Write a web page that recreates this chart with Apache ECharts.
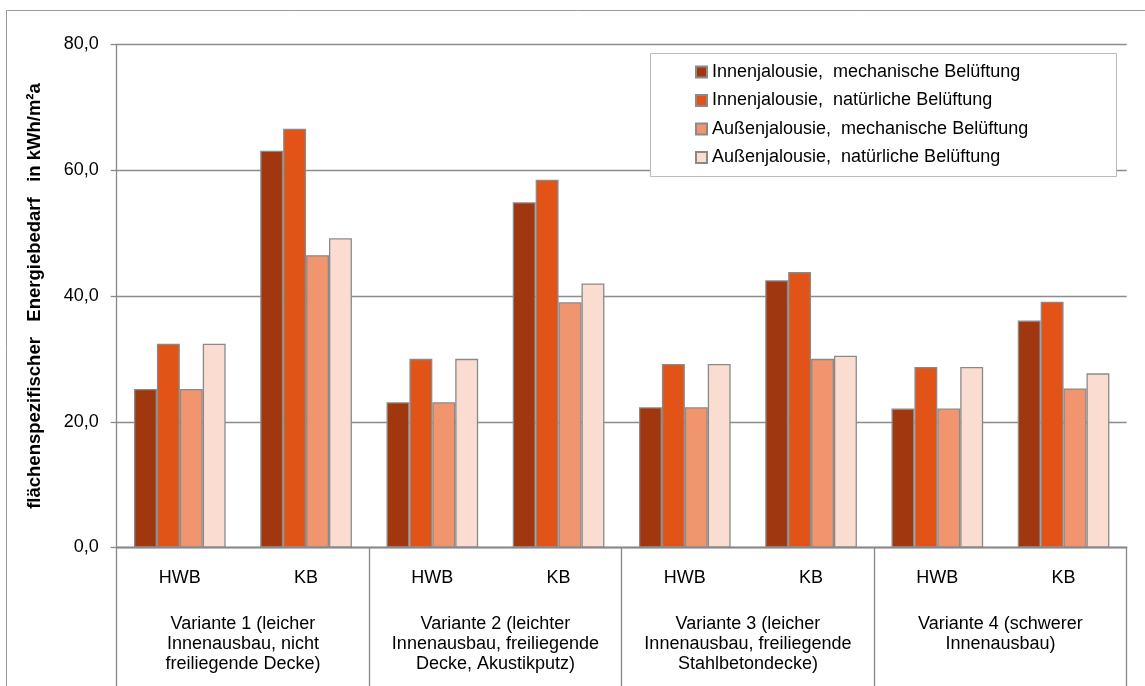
<!DOCTYPE html>
<html>
<head>
<meta charset="utf-8">
<script src="https://cdn.jsdelivr.net/npm/echarts@6/dist/echarts.min.js"></script>
<style>html,body{margin:0;padding:0;background:#fff}#c{width:1145px;height:686px}</style>
</head>
<body>
<div id="c"></div>
<script>
const categories = ['HWB', 'KB', 'HWB', 'KB', 'HWB', 'KB', 'HWB', 'KB'];
const variants = [
  'Variante 1 (leicher\nInnenausbau, nicht\nfreiliegende Decke)',
  'Variante 2 (leichter\nInnenausbau, freiliegende\nDecke, Akustikputz)',
  'Variante 3 (leicher\nInnenausbau, freiliegende\nStahlbetondecke)',
  'Variante 4 (schwerer\nInnenausbau)'
];
const seriesNames = [
  'Innenjalousie,  mechanische Belüftung',
  'Innenjalousie,  natürliche Belüftung',
  'Außenjalousie,  mechanische Belüftung',
  'Außenjalousie,  natürliche Belüftung'
];
const innenMech = [25.2, 63.1, 23.1, 54.9, 22.3, 42.5, 22.1, 36.1];
const innenNat  = [32.4, 66.6, 30.0, 58.5, 29.2, 43.8, 28.7, 39.1];
const aussenMech = [25.2, 46.5, 23.1, 39.0, 22.3, 30.0, 22.1, 25.3];
const aussenNat  = [32.4, 49.2, 30.0, 42.0, 29.2, 30.5, 28.7, 27.7];
const yTicks = [0, 20, 40, 60, 80];
const yName = 'flächenspezifischer   Energiebedarf   in kWh/m²a';

const colors = ['#A1370F', '#E25317', '#F1956F', '#FADCD1'];
const FONT = '"Liberation Sans", Arial, sans-serif';
const valuesList = [innenMech, innenNat, aussenMech, aussenNat];

const chart = echarts.init(document.getElementById('c'), null, {renderer: 'canvas'});
chart.setOption({
  animation: false,
  backgroundColor: '#fff',
  textStyle: {fontFamily: FONT},
  graphic: [
    {type: 'rect', z: 0, silent: true, shape: {x: 6.5, y: 10.5, width: 1200, height: 800},
     style: {fill: null, stroke: '#999', lineWidth: 1}},
    {type: 'rect', z: 50, silent: true, shape: {x: 650.5, y: 53.5, width: 466, height: 123},
     style: {fill: '#fff', stroke: '#bbb', lineWidth: 1}}
  ],
  legend: {
    orient: 'vertical',
    left: 695,
    top: 63,
    padding: 0,
    itemGap: 10.5,
    itemWidth: 11,
    itemHeight: 11,
    icon: 'rect',
    z: 60,
    textStyle: {fontSize: 18, color: '#000', fontFamily: FONT, lineHeight: 18},
    data: seriesNames
  },
  grid: {left: 116.7, right: 18.3, top: 44.5, bottom: 138.5, containLabel: false},
  xAxis: [
    {
      type: 'category',
      data: categories,
      position: 'bottom',
      axisLine: {show: true, lineStyle: {color: '#888', width: 1.3}},
      axisTick: {show: false},
      axisLabel: {fontSize: 18, color: '#000', margin: 22, interval: 0, fontFamily: FONT}
    },
    {
      type: 'category',
      data: variants,
      position: 'bottom',
      axisLine: {show: true, lineStyle: {color: '#888', width: 1.3}},
      axisTick: {show: true, interval: 0, length: 140, lineStyle: {color: '#888', width: 1.3}},
      axisLabel: {fontSize: 18, color: '#000', margin: 67, lineHeight: 20, interval: 0, align: 'center', fontFamily: FONT}
    }
  ],
  yAxis: {
    type: 'value',
    min: yTicks[0],
    max: yTicks[yTicks.length - 1],
    interval: 20,
    name: yName,
    nameLocation: 'middle',
    nameGap: 72,
    nameTextStyle: {fontSize: 18.5, fontWeight: 'bold', color: '#000', fontFamily: FONT},
    axisLine: {show: true, lineStyle: {color: '#888', width: 1.3}},
    axisTick: {show: true, length: 6, lineStyle: {color: '#888', width: 1.3}},
    axisLabel: {fontSize: 18, color: '#000', margin: 18, fontFamily: FONT,
      formatter: v => v.toFixed(1).replace('.', ',')},
    splitLine: {show: true, lineStyle: {color: '#8c8c8c', width: 1.3}}
  },
  series: seriesNames.map((n, i) => ({
    name: n,
    type: 'bar',
    xAxisIndex: 0,
    data: valuesList[i],
    barGap: '0%',
    barCategoryGap: '27.4%',
    itemStyle: {color: colors[i], borderColor: '#8a8a8a', borderWidth: 1.3}
  }))
});
</script>
</body>
</html>
